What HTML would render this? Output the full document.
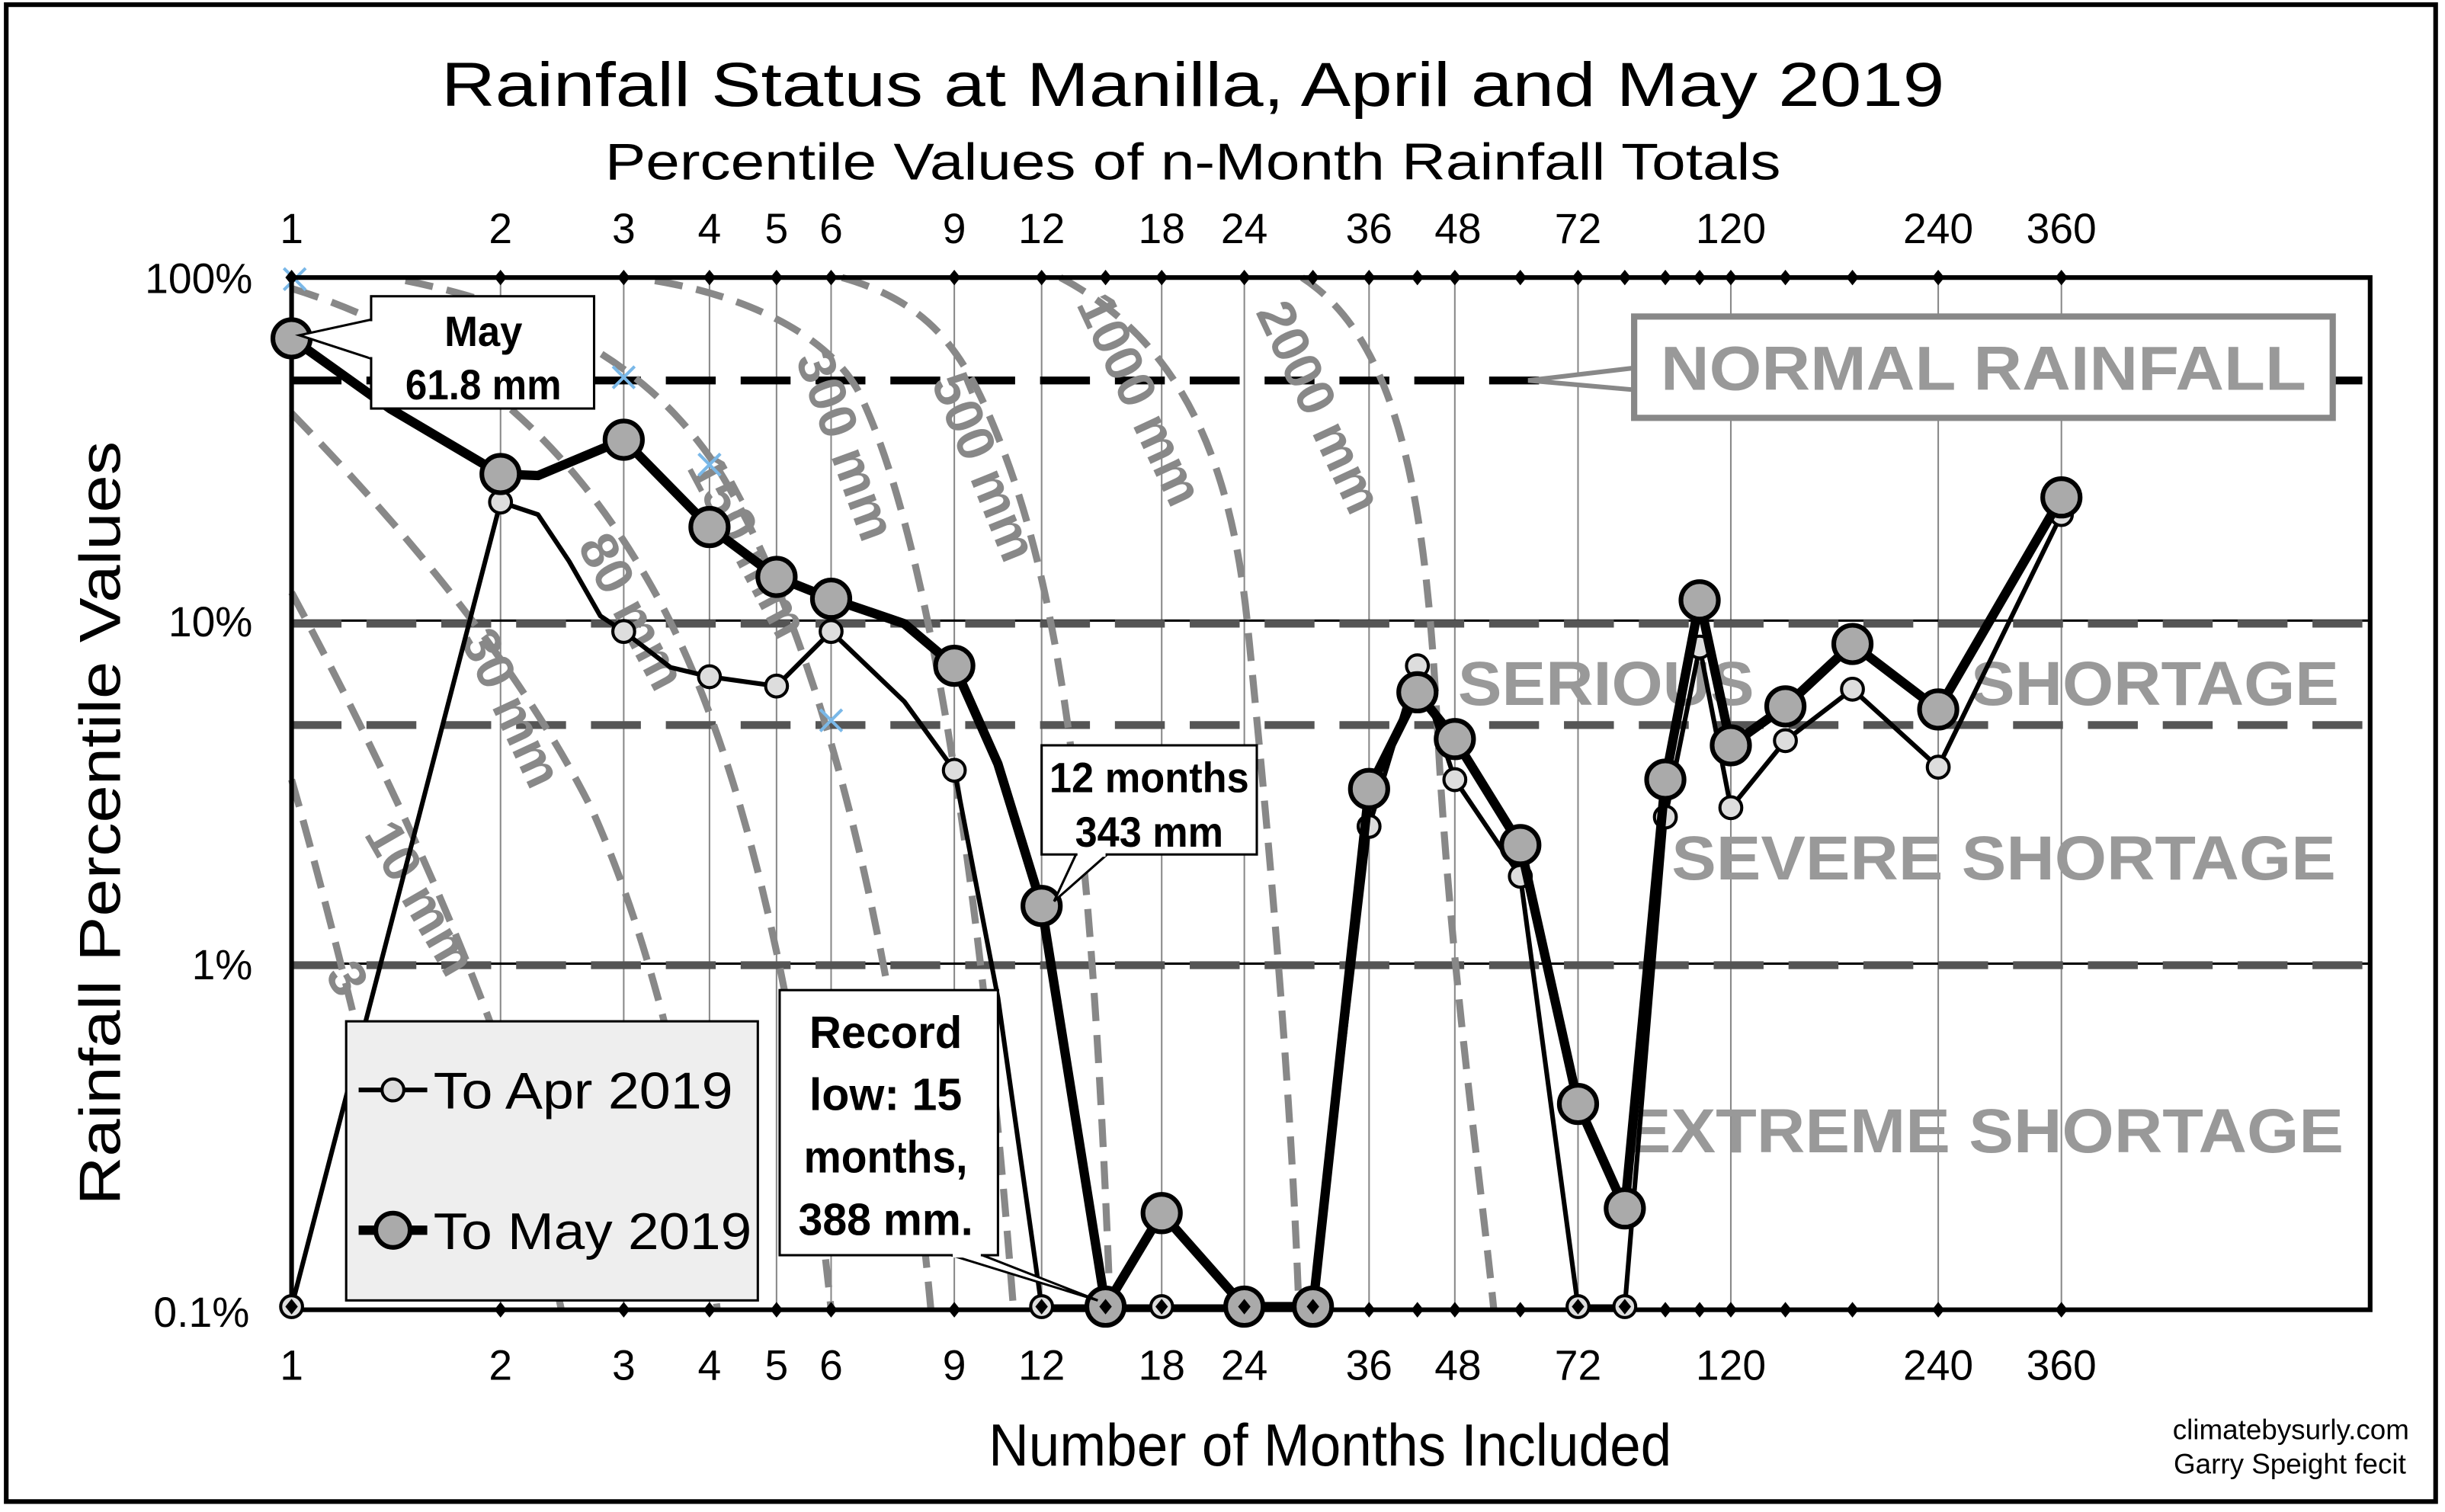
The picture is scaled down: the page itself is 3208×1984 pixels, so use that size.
<!DOCTYPE html>
<html><head><meta charset="utf-8"><style>
html,body{margin:0;padding:0;background:#fff}
svg{display:block}
text{font-family:"Liberation Sans",Arial,sans-serif}
</style></head><body>
<svg width="3208" height="1984" viewBox="0 0 1568 969.7" preserveAspectRatio="none" xmlns="http://www.w3.org/2000/svg">
<rect x="0" y="0" width="1568" height="970" fill="#fff"/>
<rect x="4" y="3" width="1558" height="960" fill="none" stroke="#000" stroke-width="3"/>
<!-- titles -->
<text x="765" y="68" font-size="40" text-anchor="middle" textLength="964" lengthAdjust="spacingAndGlyphs">Rainfall Status at Manilla, April and May 2019</text>
<text x="765" y="115" font-size="33" text-anchor="middle" textLength="754" lengthAdjust="spacingAndGlyphs">Percentile Values of n-Month Rainfall Totals</text>
<text x="853" y="940" font-size="38" text-anchor="middle" textLength="438" lengthAdjust="spacingAndGlyphs">Number of Months Included</text>
<text transform="translate(77,528) rotate(-90)" font-size="37" text-anchor="middle" textLength="490" lengthAdjust="spacingAndGlyphs">Rainfall Percentile Values</text>
<text x="1545" y="923" font-size="18" text-anchor="end">climatebysurly.com</text>
<text x="1543" y="945" font-size="18" text-anchor="end">Garry Speight fecit</text>
<!-- y ticks -->
<g font-size="27" text-anchor="end">
<text x="162" y="188">100%</text><text x="162" y="408">10%</text><text x="162" y="628">1%</text><text x="160" y="851">0.1%</text>
</g>
<!-- vertical grid -->
<g stroke="#888" stroke-width="1">
<line x1="321" y1="178" x2="321" y2="840"/><line x1="400" y1="178" x2="400" y2="840"/><line x1="455" y1="178" x2="455" y2="840"/><line x1="498" y1="178" x2="498" y2="840"/><line x1="533" y1="178" x2="533" y2="840"/><line x1="612" y1="178" x2="612" y2="840"/><line x1="668" y1="178" x2="668" y2="840"/><line x1="745" y1="178" x2="745" y2="840"/><line x1="798" y1="178" x2="798" y2="840"/><line x1="878" y1="178" x2="878" y2="840"/><line x1="933" y1="178" x2="933" y2="840"/><line x1="1012" y1="178" x2="1012" y2="840"/><line x1="1110" y1="178" x2="1110" y2="840"/><line x1="1243" y1="178" x2="1243" y2="840"/><line x1="1322" y1="178" x2="1322" y2="840"/>
</g>
<g stroke="#000" stroke-width="1.5"><line x1="187" y1="398" x2="1520" y2="398"/><line x1="187" y1="618" x2="1520" y2="618"/></g>
<!-- x labels -->
<g font-size="27" text-anchor="middle">
<text x="187" y="156">1</text><text x="321" y="156">2</text><text x="400" y="156">3</text><text x="455" y="156">4</text><text x="498" y="156">5</text><text x="533" y="156">6</text><text x="612" y="156">9</text><text x="668" y="156">12</text><text x="745" y="156">18</text><text x="798" y="156">24</text><text x="878" y="156">36</text><text x="935" y="156">48</text><text x="1012" y="156">72</text><text x="1110" y="156">120</text><text x="1243" y="156">240</text><text x="1322" y="156">360</text>
<text x="187" y="885">1</text><text x="321" y="885">2</text><text x="400" y="885">3</text><text x="455" y="885">4</text><text x="498" y="885">5</text><text x="533" y="885">6</text><text x="612" y="885">9</text><text x="668" y="885">12</text><text x="745" y="885">18</text><text x="798" y="885">24</text><text x="878" y="885">36</text><text x="935" y="885">48</text><text x="1012" y="885">72</text><text x="1110" y="885">120</text><text x="1243" y="885">240</text><text x="1322" y="885">360</text>
</g>
<!-- horizontal dashed -->
<line x1="187" y1="244" x2="1520" y2="244" stroke="#000" stroke-width="5" stroke-dasharray="32,16"/>
<g stroke="#555" stroke-width="5" stroke-dasharray="32,16">
<line x1="187" y1="400" x2="1520" y2="400"/><line x1="187" y1="465" x2="1520" y2="465"/><line x1="187" y1="619" x2="1520" y2="619"/>
</g>
<!-- isohyets -->
<g fill="none" stroke="#888" stroke-width="4.5" stroke-dasharray="18,9">
<path d="M835,178 C900,220 915,330 922,470 C930,620 950,760 958,840"/>
<path d="M680,178 C760,220 790,300 800,400 C815,550 828,700 833,840"/>
<path d="M540,178 C600,195 620,230 640,280 C680,380 700,520 712,840"/>
<path d="M420,180 C480,190 530,215 550,250 C590,330 625,520 650,840"/>
<path d="M260,180 C360,200 420,240 460,300 C510,380 570,550 597,840"/>
<path d="M187,185 C300,220 370,290 420,380 C470,470 510,620 533,840"/>
<path d="M187,265 C250,330 330,420 380,520 C420,610 445,720 460,840"/>
<path d="M187,380 C230,460 290,580 330,700 L360,840"/>
<path d="M187,500 C210,580 240,700 270,840"/>
</g>
<g fill="#888" font-size="34" font-weight="bold">
<text transform="translate(805,200) rotate(65)">2000 mm</text>
<text transform="translate(690,195) rotate(65)">1000 mm</text>
<text transform="translate(597,245) rotate(68)">500 mm</text>
<text transform="translate(510,230) rotate(70)">300 mm</text>
<text transform="translate(440,300) rotate(62)">150 mm</text>
<text transform="translate(370,350) rotate(62)">80 mm</text>
<text transform="translate(295,410) rotate(65)">30 mm</text>
<text transform="translate(233,535) rotate(60)">10 mm</text>
<text transform="translate(208,625) rotate(60)">3</text>
</g>
<!-- crosses -->
<g stroke="#7ab8e8" stroke-width="2">
<path d="M182,172 l14,14 M196,172 l-14,14"/><path d="M393,235 l14,14 M407,235 l-14,14"/><path d="M448,291 l14,14 M462,291 l-14,14"/><path d="M526,455 l14,14 M540,455 l-14,14"/>
</g>
<!-- zone labels -->
<g fill="#999" font-size="40" font-weight="bold">
<text x="935" y="452" textLength="190" lengthAdjust="spacingAndGlyphs">SERIOUS</text>
<text x="1500" y="452" text-anchor="end" textLength="236" lengthAdjust="spacingAndGlyphs">SHORTAGE</text>
<text x="1498" y="564" text-anchor="end" textLength="426" lengthAdjust="spacingAndGlyphs">SEVERE  SHORTAGE</text>
<text x="1503" y="739" text-anchor="end" textLength="460" lengthAdjust="spacingAndGlyphs">EXTREME  SHORTAGE</text>
</g>
<!-- normal rainfall box -->
<path d="M1048,236 L980,244 L1048,250" fill="#fff" stroke="#888" stroke-width="3"/>
<rect x="1048" y="203" width="448" height="65" fill="#fff" stroke="#888" stroke-width="4"/>
<text x="1272" y="250" text-anchor="middle" fill="#999" font-size="40" font-weight="bold" textLength="414" lengthAdjust="spacingAndGlyphs">NORMAL RAINFALL</text>
<!-- plot frame -->
<rect x="187" y="178" width="1333" height="662" fill="none" stroke="#000" stroke-width="3"/>
<!-- diamonds -->
<g fill="#000">
<g transform="translate(0,178)"><path d="M187,-5l4,5l-4,5l-4,-5z M321,-5l4,5l-4,5l-4,-5z M400,-5l4,5l-4,5l-4,-5z M455,-5l4,5l-4,5l-4,-5z M498,-5l4,5l-4,5l-4,-5z M533,-5l4,5l-4,5l-4,-5z M612,-5l4,5l-4,5l-4,-5z M668,-5l4,5l-4,5l-4,-5z M709,-5l4,5l-4,5l-4,-5z M745,-5l4,5l-4,5l-4,-5z M798,-5l4,5l-4,5l-4,-5z M842,-5l4,5l-4,5l-4,-5z M878,-5l4,5l-4,5l-4,-5z M909,-5l4,5l-4,5l-4,-5z M933,-5l4,5l-4,5l-4,-5z M975,-5l4,5l-4,5l-4,-5z M1012,-5l4,5l-4,5l-4,-5z M1042,-5l4,5l-4,5l-4,-5z M1068,-5l4,5l-4,5l-4,-5z M1090,-5l4,5l-4,5l-4,-5z M1110,-5l4,5l-4,5l-4,-5z M1145,-5l4,5l-4,5l-4,-5z M1188,-5l4,5l-4,5l-4,-5z M1243,-5l4,5l-4,5l-4,-5z M1322,-5l4,5l-4,5l-4,-5z"/></g>
<g transform="translate(0,840)"><path d="M187,-5l4,5l-4,5l-4,-5z M321,-5l4,5l-4,5l-4,-5z M400,-5l4,5l-4,5l-4,-5z M455,-5l4,5l-4,5l-4,-5z M498,-5l4,5l-4,5l-4,-5z M533,-5l4,5l-4,5l-4,-5z M612,-5l4,5l-4,5l-4,-5z M668,-5l4,5l-4,5l-4,-5z M709,-5l4,5l-4,5l-4,-5z M745,-5l4,5l-4,5l-4,-5z M798,-5l4,5l-4,5l-4,-5z M842,-5l4,5l-4,5l-4,-5z M878,-5l4,5l-4,5l-4,-5z M909,-5l4,5l-4,5l-4,-5z M933,-5l4,5l-4,5l-4,-5z M975,-5l4,5l-4,5l-4,-5z M1012,-5l4,5l-4,5l-4,-5z M1042,-5l4,5l-4,5l-4,-5z M1068,-5l4,5l-4,5l-4,-5z M1090,-5l4,5l-4,5l-4,-5z M1110,-5l4,5l-4,5l-4,-5z M1145,-5l4,5l-4,5l-4,-5z M1188,-5l4,5l-4,5l-4,-5z M1243,-5l4,5l-4,5l-4,-5z M1322,-5l4,5l-4,5l-4,-5z"/></g>
</g>
<!-- Apr series -->
<polyline fill="none" stroke="#000" stroke-width="3" stroke-linejoin="round" points="187,838 321,322 345,330 365,360 385,395 400,405 430,428 455,434 498,440 533,405 580,450 612,494 640,640 668,838 709,838 745,838 798,838 842,838 878,530 909,427 933,500 975,562 1012,838 1042,838 1068,524 1090,415 1110,518 1145,475 1188,442 1243,492 1322,330"/>
<g fill="#ddd" stroke="#000" stroke-width="2">
<circle cx="321" cy="322" r="7"/><circle cx="400" cy="405" r="7"/><circle cx="455" cy="434" r="7"/><circle cx="498" cy="440" r="7"/><circle cx="533" cy="405" r="7"/><circle cx="612" cy="494" r="7"/><circle cx="878" cy="530" r="7"/><circle cx="909" cy="427" r="7"/><circle cx="933" cy="500" r="7"/><circle cx="975" cy="562" r="7"/><circle cx="1068" cy="524" r="7"/><circle cx="1090" cy="415" r="7"/><circle cx="1110" cy="518" r="7"/><circle cx="1145" cy="475" r="7"/><circle cx="1188" cy="442" r="7"/><circle cx="1243" cy="492" r="7"/><circle cx="1322" cy="330" r="7"/>
<circle cx="187" cy="838" r="7"/><circle cx="668" cy="838" r="7"/><circle cx="745" cy="838" r="7"/><circle cx="1012" cy="838" r="7"/><circle cx="1042" cy="838" r="7"/>
</g>
<g fill="#000"><path d="M187,833l4,5l-4,5l-4,-5z M668,833l4,5l-4,5l-4,-5z M745,833l4,5l-4,5l-4,-5z M1012,833l4,5l-4,5l-4,-5z M1042,833l4,5l-4,5l-4,-5z"/></g>
<!-- May series -->
<polyline fill="none" stroke="#000" stroke-width="6" stroke-linejoin="round" points="187,217 250,262 321,304 345,305 400,282 455,338 498,370 533,384 580,400 612,427 640,490 668,581 709,838 745,778 798,838 842,838 878,506 909,444 933,474 975,542 1012,708 1042,775 1068,500 1090,385 1110,478 1145,453 1188,413 1243,455 1322,319"/>
<g fill="#aaa" stroke="#000" stroke-width="3">
<circle cx="187" cy="217" r="12"/><circle cx="321" cy="304" r="12"/><circle cx="400" cy="282" r="12"/><circle cx="455" cy="338" r="12"/><circle cx="498" cy="370" r="12"/><circle cx="533" cy="384" r="12"/><circle cx="612" cy="427" r="12"/><circle cx="668" cy="581" r="12"/><circle cx="709" cy="838" r="12"/><circle cx="745" cy="778" r="12"/><circle cx="798" cy="838" r="12"/><circle cx="842" cy="838" r="12"/><circle cx="878" cy="506" r="12"/><circle cx="909" cy="444" r="12"/><circle cx="933" cy="474" r="12"/><circle cx="975" cy="542" r="12"/><circle cx="1012" cy="708" r="12"/><circle cx="1042" cy="775" r="12"/><circle cx="1068" cy="500" r="12"/><circle cx="1090" cy="385" r="12"/><circle cx="1110" cy="478" r="12"/><circle cx="1145" cy="453" r="12"/><circle cx="1188" cy="413" r="12"/><circle cx="1243" cy="455" r="12"/><circle cx="1322" cy="319" r="12"/>
</g>
<g fill="#000"><path d="M709,833l4,5l-4,5l-4,-5z M798,833l4,5l-4,5l-4,-5z M842,833l4,5l-4,5l-4,-5z"/></g>
<!-- callouts -->
<path d="M238,205 L192,215 L238,230" fill="#fff" stroke="#000" stroke-width="1.5"/>
<rect x="238" y="190" width="143" height="72" fill="#fff" stroke="#000" stroke-width="1.5"/>
<line x1="238" y1="206" x2="238" y2="229" stroke="#fff" stroke-width="3"/>
<g font-size="27" font-weight="bold" text-anchor="middle">
<text x="310" y="222" textLength="50" lengthAdjust="spacingAndGlyphs">May</text>
<text x="310" y="256" textLength="100" lengthAdjust="spacingAndGlyphs">61.8 mm</text>
</g>
<path d="M690,548 L676,578 L710,548" fill="#fff" stroke="#000" stroke-width="1.5"/>
<rect x="668" y="478" width="138" height="70" fill="#fff" stroke="#000" stroke-width="1.5"/>
<line x1="691" y1="548" x2="709" y2="548" stroke="#fff" stroke-width="3"/>
<g font-size="27" font-weight="bold" text-anchor="middle">
<text x="737" y="508" textLength="128" lengthAdjust="spacingAndGlyphs">12 months</text>
<text x="737" y="543" textLength="95" lengthAdjust="spacingAndGlyphs">343 mm</text>
</g>
<path d="M610,805 L704,834 L630,805" fill="#fff" stroke="#000" stroke-width="1.5"/>
<rect x="500" y="635" width="140" height="170" fill="#fff" stroke="#000" stroke-width="1.5"/>
<line x1="611" y1="805" x2="629" y2="805" stroke="#fff" stroke-width="3"/>
<g font-size="29" font-weight="bold" text-anchor="middle">
<text x="568" y="672" textLength="98" lengthAdjust="spacingAndGlyphs">Record</text>
<text x="568" y="712" textLength="98" lengthAdjust="spacingAndGlyphs">low: 15</text>
<text x="568" y="752" textLength="105" lengthAdjust="spacingAndGlyphs">months,</text>
<text x="568" y="792" textLength="112" lengthAdjust="spacingAndGlyphs">388 mm.</text>
</g>
<!-- legend -->
<rect x="222" y="655" width="264" height="179" fill="#eee" stroke="#000" stroke-width="1.5"/>
<line x1="230" y1="699" x2="274" y2="699" stroke="#000" stroke-width="3"/>
<circle cx="252" cy="699" r="7" fill="#ddd" stroke="#000" stroke-width="2"/>
<text x="278" y="711" font-size="33" textLength="192" lengthAdjust="spacingAndGlyphs">To Apr 2019</text>
<line x1="230" y1="789" x2="274" y2="789" stroke="#000" stroke-width="6"/>
<circle cx="252" cy="789" r="11" fill="#aaa" stroke="#000" stroke-width="3"/>
<text x="278" y="801" font-size="33" textLength="204" lengthAdjust="spacingAndGlyphs">To May 2019</text>
</svg>
</body></html>
